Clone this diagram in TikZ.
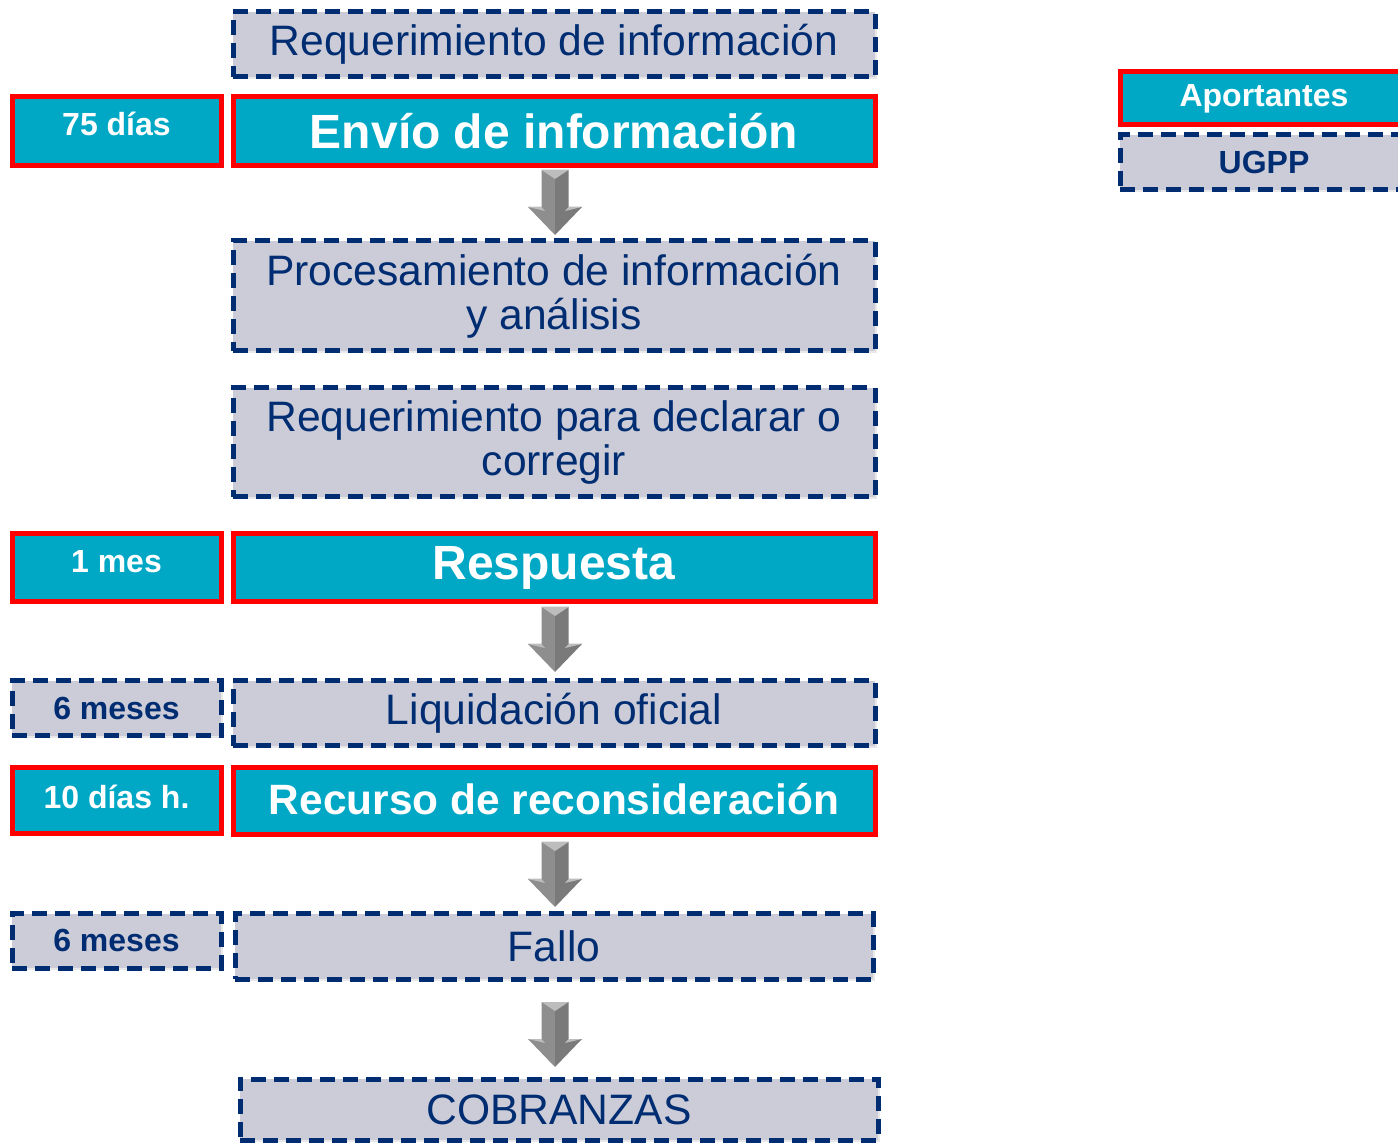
\documentclass[tikz,border=0pt]{standalone}
\usepackage{fontspec}
\setmainfont{Liberation Sans}
\usetikzlibrary{shadows}
\definecolor{tealfill}{HTML}{00A8C6}
\definecolor{grayfill}{HTML}{CCCCD8}
\definecolor{navy}{HTML}{002D72}
\definecolor{boxred}{HTML}{FF0000}
\definecolor{arrowleft}{HTML}{8E8E8E}
\definecolor{arrowright}{HTML}{7A7A7A}
\definecolor{arrowlight}{HTML}{BDBDBD}
\tikzset{
  box/.style={rectangle, inner sep=0pt, align=center,
    drop shadow={opacity=0.18, shadow xshift=0.8pt, shadow yshift=-0.8pt}},
  solidbox/.style={box, fill=tealfill, draw=boxred, line width=2.5pt, text=white},
  dashbox/.style={box, fill=grayfill, draw=navy, line width=2.5pt, dash pattern=on 7.5pt off 4pt, text=navy},
  mainwide/.style={minimum width=321pt},
  sidewide/.style={minimum width=104.5pt},
  regtext/.style={font=\fontsize{21.3}{22}\selectfont},
  bigbold/.style={font=\fontsize{24}{26}\selectfont\bfseries},
  midbold/.style={font=\fontsize{21.2}{22}\selectfont\bfseries},
  smallbold/.style={font=\fontsize{16}{18}\selectfont\bfseries},
  downarrow/.pic={
    \fill[arrowleft] (-13.5,0) -- (0,0) -- (0,65) -- (-27,37) -- (-13.5,37) -- cycle;
    \fill[arrowright] (0,0) -- (13.5,0) -- (13.5,37) -- (27,37) -- (0,65) -- cycle;
    \fill[arrowlight] (-13.5,0) -- (13.5,0) -- (0,9) -- cycle;
    \fill[arrowlight] (-27,37) -- (-13.5,37) -- (-10,41) -- cycle;
    \fill[arrowlight] (27,37) -- (13.5,37) -- (10,41) -- cycle;
  }
}
\begin{document}
\begin{tikzpicture}[x=0.5pt,y=-0.5pt]
\useasboundingbox (0,0) rectangle (1398,1143);
\clip (0,0) rectangle (1398,1143);
\fill[white] (0,0) rectangle (1398,1143);

% main column
\node[dashbox, mainwide, minimum height=32.5pt, regtext] (req) at (554,44.5) {Requerimiento de información};
\node[solidbox, mainwide, minimum height=34.5pt, bigbold] (envio) at (554,131.5) {Envío de información};
\node[dashbox, mainwide, minimum height=55pt, regtext] (proc) at (554,296) {Procesamiento de información\\ y análisis};
\node[dashbox, mainwide, minimum height=54.5pt, regtext] (decl) at (554,442.5) {Requerimiento para declarar o\\ corregir};
\node[solidbox, mainwide, minimum height=34pt, bigbold] (resp) at (554,568) {Respuesta};
\node[dashbox, mainwide, minimum height=32.5pt, regtext] (liq) at (554,713.5) {Liquidación oficial};
\node[solidbox, mainwide, minimum height=33.5pt, midbold] (rec) at (554,801.5) {\raisebox{2.5pt}{Recurso de reconsideración}};
\node[dashbox, minimum width=319pt, minimum height=32.5pt, regtext] (fallo) at (554,946.5) {Fallo};
\node[dashbox, minimum width=319pt, minimum height=30.5pt, regtext] (cobr) at (559,1109.5) {COBRANZAS};

% side labels
\node[solidbox, sidewide, minimum height=34.5pt, smallbold] (d75) at (116.5,131.5) {\raisebox{7.5pt}{75 días}};
\node[solidbox, sidewide, minimum height=34pt, smallbold] (m1) at (116.5,568) {\raisebox{7pt}{1 mes}};
\node[dashbox, sidewide, minimum height=27.5pt, smallbold] (m6a) at (116.5,708.5) {\raisebox{0.5pt}{6 meses}};
\node[solidbox, sidewide, minimum height=33pt, smallbold] (d10) at (116.5,801) {\raisebox{4.5pt}{10 días h.}};
\node[dashbox, sidewide, minimum height=27pt, smallbold] (m6b) at (116.5,941) {\raisebox{0.5pt}{6 meses}};

% legend
\node[solidbox, minimum width=144pt, minimum height=26.5pt, smallbold] (aport) at (1264,98.5) {Aportantes};
\node[dashbox, minimum width=144pt, minimum height=27.5pt, smallbold] (ugpp) at (1264,162.5) {UGPP};

% block arrows
\pic at (555,170) {downarrow};
\pic at (555,607) {downarrow};
\pic at (555,842) {downarrow};
\pic at (555,1002) {downarrow};
\end{tikzpicture}
\end{document}
